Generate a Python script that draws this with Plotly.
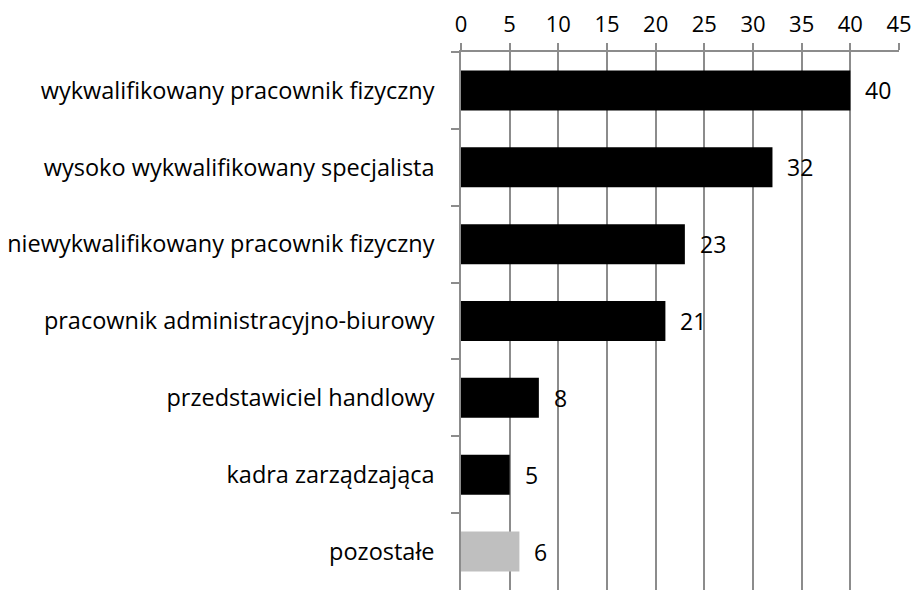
import plotly.graph_objects as go

categories = [
    "wykwalifikowany pracownik fizyczny",
    "wysoko wykwalifikowany specjalista",
    "niewykwalifikowany pracownik fizyczny",
    "pracownik administracyjno-biurowy",
    "przedstawiciel handlowy",
    "kadra zarządzająca",
    "pozostałe",
]
values = [40, 32, 23, 21, 8, 5, 6]
colors = ["#000000"] * 6 + ["#bfbfbf"]
x_ticks = [0, 5, 10, 15, 20, 25, 30, 35, 40, 45]

FONT = "Open Sans"

fig = go.Figure()
fig.add_trace(go.Bar(
    x=values, y=categories, orientation="h",
    marker=dict(color=colors, line=dict(width=0)),
    width=0.52,
    showlegend=False,
))
for c, v in zip(categories, values):
    fig.add_annotation(x=v, y=c, text=str(v), showarrow=False,
                       xanchor="left", xshift=13,
                       font=dict(family=FONT, size=23, color="#000"))

fig.update_layout(
    width=912, height=590,
    margin=dict(l=461, r=13, t=52, b=0),
    paper_bgcolor="white", plot_bgcolor="white",
    font=dict(family=FONT, size=23, color="#000"),
)
fig.update_xaxes(
    side="top", range=[0, 45], tickvals=x_ticks,
    showgrid=True, gridcolor="#8c8c8c", gridwidth=1.5,
    showline=True, linecolor="#8c8c8c", linewidth=1.5,
    ticks="outside", ticklen=7, tickcolor="#8c8c8c", tickwidth=1.5,
    tickfont=dict(family=FONT, size=22, color="#000"),
    ticklabelstandoff=2,
    zeroline=False, fixedrange=True,
)
fig.update_yaxes(
    autorange="reversed", type="category",
    showline=True, linecolor="#8c8c8c", linewidth=1.5,
    ticks="outside", ticklen=8, tickcolor="#8c8c8c", tickwidth=1.5,
    tickson="boundaries", showgrid=False,
    tickfont=dict(family=FONT, size=23.5, color="#000"),
    ticklabelstandoff=20,
)
fig.write_html("out.html", config={"displayModeBar": False},
               post_script="document.body.style.margin='0';")
